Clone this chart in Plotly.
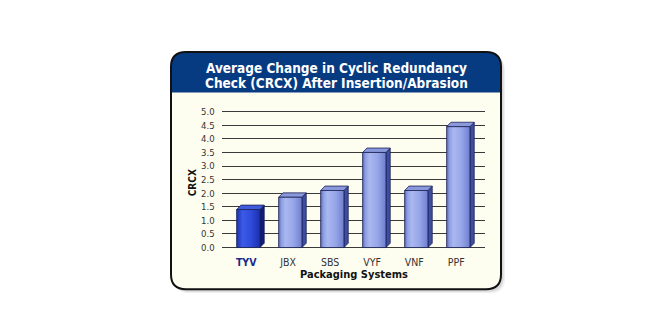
import plotly.graph_objects as go

# Data
systems = ["TYV", "JBX", "SBS", "VYF", "VNF", "PPF"]
crcx_change = [1.4, 1.85, 2.1, 3.5, 2.1, 4.45]
y_ticks = [0.0, 0.5, 1.0, 1.5, 2.0, 2.5, 3.0, 3.5, 4.0, 4.5, 5.0]
highlight = "TYV"

W, H = 672, 336
FONT = "DejaVu Sans Condensed, Liberation Sans Narrow, Roboto, sans-serif"

# Bar geometry in axis units
BAR_W = 0.555
DX = 0.102   # depth offset along x
DY = 0.163   # depth offset along y

NORMAL = dict(
    front=[[0, "#5a6ab8"], [0.12, "#8e9ee2"], [0.3, "#aab8f0"], [0.65, "#95a5e7"], [1, "#6e7ecf"]],
    side="#3e4e9e",
    top="#8a98dc",
)
HIGHLIGHT = dict(
    front=[[0, "#1a32ae"], [0.25, "#3c5ae8"], [0.6, "#2f4cda"], [1, "#1a30b0"]],
    side="#0d1b7c",
    top="#3f5bdb",
)
EDGE = dict(color="#1c2256", width=0.8)

fig = go.Figure()

for i, (name, v) in enumerate(zip(systems, crcx_change)):
    pal = HIGHLIGHT if name == highlight else NORMAL
    x0, x1 = i - BAR_W / 2, i + BAR_W / 2
    # side face
    fig.add_trace(go.Scatter(
        x=[x1, x1 + DX, x1 + DX, x1, x1], y=[0, DY, v + DY, v, 0],
        mode="lines", fill="toself", fillcolor=pal["side"], line=EDGE,
        hoverinfo="skip", showlegend=False))
    # top face
    fig.add_trace(go.Scatter(
        x=[x0, x1, x1 + DX, x0 + DX, x0], y=[v, v, v + DY, v + DY, v],
        mode="lines", fill="toself", fillcolor=pal["top"], line=EDGE,
        hoverinfo="skip", showlegend=False))
    # front face with horizontal shading
    fig.add_trace(go.Scatter(
        x=[x0, x1, x1, x0, x0], y=[0, 0, v, v, 0],
        mode="lines", fill="toself",
        fillgradient=dict(type="horizontal", colorscale=pal["front"]),
        line=EDGE, name=name, hovertemplate="%{fullData.name}: " + str(v) + "<extra></extra>",
        showlegend=False))


def px(x):
    return x / W


def py(y):
    return 1 - y / H


def rounded_path(l, t, r, b, rad, bottom_round=True):
    ry = rad
    p = f"M {px(l)},{py(t + ry)} Q {px(l)},{py(t)} {px(l + rad)},{py(t)} "
    p += f"L {px(r - rad)},{py(t)} Q {px(r)},{py(t)} {px(r)},{py(t + ry)} "
    if bottom_round:
        p += f"L {px(r)},{py(b - ry)} Q {px(r)},{py(b)} {px(r - rad)},{py(b)} "
        p += f"L {px(l + rad)},{py(b)} Q {px(l)},{py(b)} {px(l)},{py(b - ry)} Z"
    else:
        p += f"L {px(r)},{py(b)} L {px(l)},{py(b)} Z"
    return p


FL, FT, FR, FB, RAD = 171, 50, 501, 291.5, 15
shapes = [
    # soft drop shadow
    dict(type="path", path=rounded_path(FL + 4, FT + 4, FR + 4, FB + 4, RAD),
         xref="paper", yref="paper", fillcolor="rgba(0,0,0,0.06)", line=dict(width=0), layer="below"),
    dict(type="path", path=rounded_path(FL + 2, FT + 2, FR + 2.5, FB + 2.5, RAD),
         xref="paper", yref="paper", fillcolor="rgba(0,0,0,0.10)", line=dict(width=0), layer="below"),
    # panel
    dict(type="path", path=rounded_path(FL, FT, FR, FB, RAD),
         xref="paper", yref="paper", fillcolor="#fefef0", line=dict(width=0), layer="below"),
    # header band
    dict(type="path", path=rounded_path(FL, FT, FR, 91, RAD, bottom_round=False),
         xref="paper", yref="paper", fillcolor="#063b82", line=dict(width=0), layer="below"),
    # outline
    dict(type="path", path=rounded_path(FL, FT, FR, FB, RAD),
         xref="paper", yref="paper", fillcolor="rgba(0,0,0,0)", line=dict(color="#111111", width=2),
         layer="above"),
]

annotations = [
    dict(text="<b>Average Change in Cyclic Redundancy</b>", x=px(336), y=py(66.5), xref="paper", yref="paper",
         showarrow=False, font=dict(family=FONT, size=13.5, color="white"), xanchor="center", yanchor="middle"),
    dict(text="<b>Check (CRCX) After Insertion/Abrasion</b>", x=px(336), y=py(81.5), xref="paper", yref="paper",
         showarrow=False, font=dict(family=FONT, size=13.5, color="white"), xanchor="center", yanchor="middle"),
    dict(text="<b>Packaging Systems</b>", x=px(354), y=py(276.5), xref="paper", yref="paper",
         showarrow=False, font=dict(family=FONT, size=11, color="#111111"), xanchor="center", yanchor="middle"),
    dict(text="<b>CRCX</b>", x=px(192.5), y=py(183), xref="paper", yref="paper", textangle=-90,
         showarrow=False, font=dict(family=FONT, size=10, color="#111111"), xanchor="center", yanchor="middle"),
]

tick_text = [f"<b><span style='color:#1a2a8c'>{s}</span></b>" if s == highlight else s for s in systems]

# Plot area placement
x_lo, x_hi = -0.633, 5.636
y_lo, y_hi = -0.1, 5.1
unit_px = (249 - 110.7) / 5.0
y_bottom_px = 249 + (0 - y_lo) * unit_px
y_top_px = 110.7 - (y_hi - 5.0) * unit_px

fig.update_layout(
    width=W, height=H,
    margin=dict(l=0, r=0, t=0, b=0),
    paper_bgcolor="white",
    plot_bgcolor="rgba(0,0,0,0)",
    shapes=shapes,
    annotations=annotations,
    xaxis=dict(
        domain=[px(221.7), px(485)], range=[x_lo, x_hi],
        tickmode="array", tickvals=[i - 0.05 for i in range(len(systems))], ticktext=tick_text,
        showgrid=False, zeroline=False, showline=False, ticks="",
        tickfont=dict(family=FONT, size=10.5, color="#333333"), ticklabelstandoff=4,
        fixedrange=True,
    ),
    yaxis=dict(
        domain=[1 - y_bottom_px / H, 1 - y_top_px / H], range=[y_lo, y_hi],
        tickmode="array", tickvals=y_ticks, tickformat=".1f",
        showgrid=True, gridcolor="#3a3a3a", gridwidth=1,
        zeroline=False, showline=False, ticks="",
        tickfont=dict(family=FONT, size=9.5, color="#333333"), ticklabelstandoff=6,
        fixedrange=True,
    ),
    showlegend=False,
)

fig.write_html("out.html")
